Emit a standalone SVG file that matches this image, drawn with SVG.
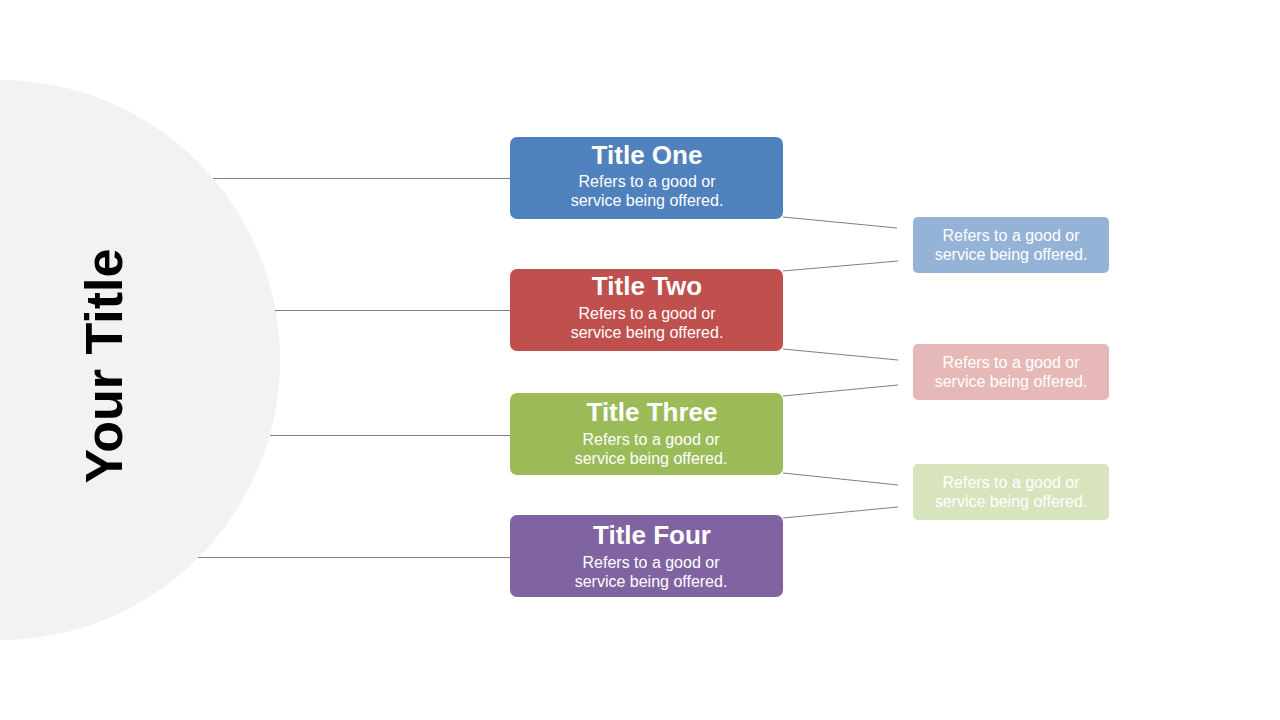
<svg xmlns="http://www.w3.org/2000/svg" width="1280" height="720" viewBox="0 0 1280 720">
<style>
.t{font-family:"Liberation Sans",Arial,sans-serif;font-weight:bold;font-size:26px;fill:#fff;text-anchor:middle}
.s{font-family:"Liberation Sans",Arial,sans-serif;font-size:16px;fill:#fff;text-anchor:middle}
.c line{stroke:#808080;stroke-width:1}
</style>
<rect width="1280" height="720" fill="#fff"/>
<circle id="circle" cx="0" cy="360" r="280" fill="#f2f2f2"/>
<text x="0" y="0" transform="translate(122,366) rotate(-90)" font-family="Liberation Sans,Arial,sans-serif" font-weight="bold" font-size="52" text-anchor="middle" fill="#000">Your Title</text>
<g class="c" id="connectors">
<line x1="213" y1="178.5" x2="510" y2="178.5"/>
<line x1="275" y1="310.5" x2="510" y2="310.5"/>
<line x1="270" y1="435.5" x2="510" y2="435.5"/>
<line x1="198" y1="557.5" x2="510" y2="557.5"/>
<line x1="783" y1="217" x2="897" y2="228"/>
<line x1="783" y1="271" x2="898" y2="261"/>
<line x1="783" y1="349" x2="898" y2="360"/>
<line x1="783" y1="396" x2="898" y2="385"/>
<line x1="783" y1="473" x2="898" y2="485"/>
<line x1="783" y1="518" x2="898" y2="507"/>
</g>
<g id="n1"><rect x="510" y="137" width="273" height="82" rx="7" fill="#4f81bd"/><text class="t" x="647" y="164">Title One</text><text class="s" x="647" y="187">Refers to a good or</text><text class="s" x="647" y="206">service being offered.</text></g>
<g id="n2"><rect x="510" y="269" width="273" height="82" rx="7" fill="#c0504d"/><text class="t" x="647" y="295">Title Two</text><text class="s" x="647" y="319">Refers to a good or</text><text class="s" x="647" y="338">service being offered.</text></g>
<g id="n3"><rect x="510" y="393" width="273" height="82" rx="7" fill="#9bbb59"/><text class="t" x="652" y="421">Title Three</text><text class="s" x="651" y="445">Refers to a good or</text><text class="s" x="651" y="464">service being offered.</text></g>
<g id="n4"><rect x="510" y="515" width="273" height="82" rx="7" fill="#8064a2"/><text class="t" x="652" y="544">Title Four</text><text class="s" x="651" y="568">Refers to a good or</text><text class="s" x="651" y="587">service being offered.</text></g>
<g id="r1"><rect x="913" y="217" width="196" height="56" rx="5" fill="#95b3d7"/><text class="s" x="1011" y="241">Refers to a good or</text><text class="s" x="1011" y="260">service being offered.</text></g>
<g id="r2"><rect x="913" y="344" width="196" height="56" rx="5" fill="#e6b9b8"/><text class="s" x="1011" y="368">Refers to a good or</text><text class="s" x="1011" y="387">service being offered.</text></g>
<g id="r3"><rect x="913" y="464" width="196" height="56" rx="5" fill="#d7e4bd"/><text class="s" x="1011" y="488">Refers to a good or</text><text class="s" x="1011" y="507">service being offered.</text></g>
</svg>
